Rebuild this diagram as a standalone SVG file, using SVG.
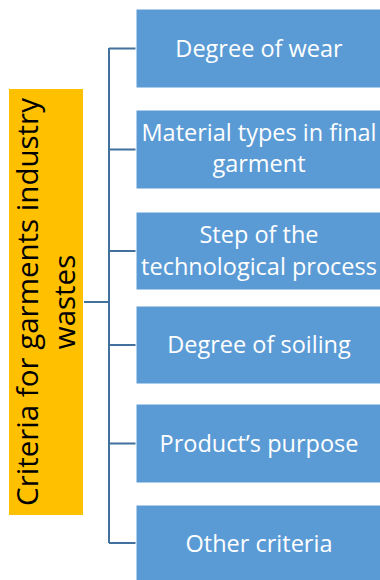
<svg xmlns="http://www.w3.org/2000/svg" width="380" height="580" viewBox="0 0 380 580">
<style>
.box{fill:#5B9BD5;stroke:#FFFFFF;stroke-width:1}
.bt{font-family:"Open Sans","Liberation Sans",sans-serif;font-size:23.5px;fill:#FFFFFF;text-anchor:middle}
.yt{font-family:"Open Sans","Liberation Sans",sans-serif;font-size:29.5px;fill:#000000;text-anchor:middle}
.con{stroke:#41719C;stroke-width:2;fill:none}
</style>
<rect width="380" height="580" fill="#FFFFFF"/>
<g id="connectors">
<path class="con" d="M84 302H109M109 48V543M109 48.5H136M109 149.5H136M109 251H136M109 345H136M109 443.5H136M109 543H136"/>
</g>
<g id="root">
<rect x="9" y="89" width="74" height="426" fill="#FFC000"/>
<text class="yt" transform="translate(0,302) rotate(-90)"><tspan x="0" y="38">Criteria for garments industry</tspan><tspan x="0" y="75">wastes</tspan></text>
</g>
<g id="n1">
<rect class="box" x="136" y="9" width="245" height="79"/>
<text class="bt" x="259" y="56.5">Degree of wear</text>
</g>
<g id="n2">
<rect class="box" x="136" y="110" width="245" height="79"/>
<text class="bt"><tspan x="259" y="141">Material types in final</tspan><tspan x="259" y="172">garment</tspan></text>
</g>
<g id="n3">
<rect class="box" x="136" y="212" width="245" height="78"/>
<text class="bt"><tspan x="259" y="243">Step of the</tspan><tspan x="259" y="275">technological process</tspan></text>
</g>
<g id="n4">
<rect class="box" x="136" y="306" width="245" height="78"/>
<text class="bt" x="259" y="353">Degree of soiling</text>
</g>
<g id="n5">
<rect class="box" x="136" y="404" width="245" height="79"/>
<text class="bt" x="259" y="452">Product’s purpose</text>
</g>
<g id="n6">
<rect class="box" x="136" y="505" width="245" height="80"/>
<text class="bt" x="259" y="552">Other criteria</text>
</g>
</svg>
